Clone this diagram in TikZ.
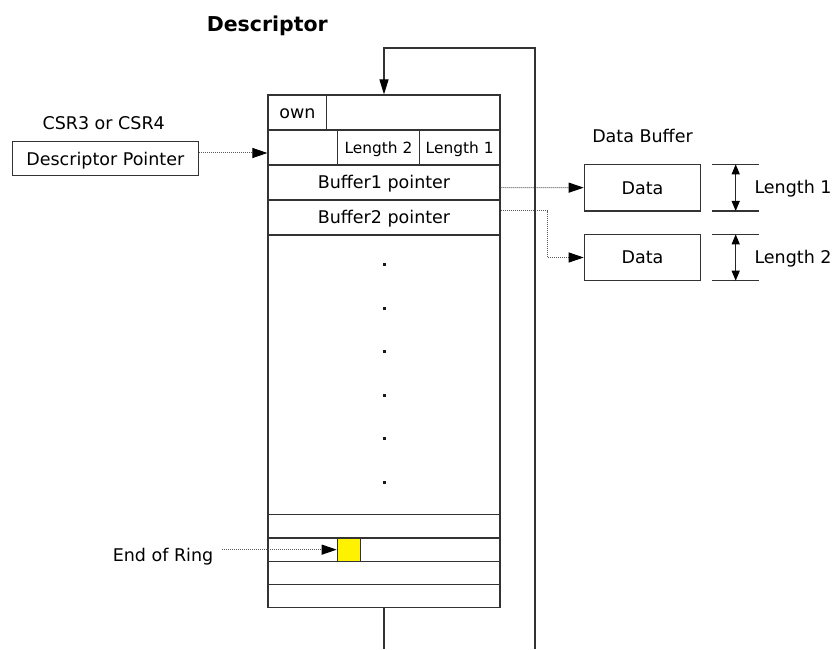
\documentclass[tikz,border=0pt]{standalone}
\usepackage{fontspec}
\setmainfont{DejaVu Sans}
\usetikzlibrary{arrows.meta}
\newcommand\mkcell[7]{\node[#1, minimum width={(#5)-(#3)}, minimum height={(#6)-(#4)}] (#2) at ({((#3)+(#5))/2},{((#4)+(#6))/2}) {#7};}
\tikzset{
  cellbox/.style={draw=black!80, line width=1.2pt, inner sep=0pt, text height=12.8pt, text depth=0pt, font=\fontsize{17.5}{21}\selectfont},
  lencell/.style={cellbox, text height=11.2pt, font=\fontsize{15.4}{18}\selectfont},
  lbl/.style={inner sep=0pt, text height=12.8pt, text depth=0pt, font=\fontsize{17.5}{21}\selectfont},
  ptr/.style={draw=black!65, line width=1pt, dash pattern=on 1pt off 1pt, -{Triangle[length=15pt,width=10pt,fill=black,color=black]}},
  solidline/.style={draw=black!80, line width=1.2pt},
  dimarrow/.style={draw=black!85, line width=1.2pt, {Triangle[length=10pt,width=8pt,fill=black,color=black]}-{Triangle[length=10pt,width=8pt,fill=black,color=black]}},
  dotmark/.style={fill=black!90}
}
\begin{document}
\begin{tikzpicture}[x=1pt,y=-1pt]
\useasboundingbox (0,0) rectangle (836,650);
% descriptor frame and rows
\mkcell{cellbox}{desc}{268}{95}{500}{607.7}{}
\mkcell{cellbox}{own}{268}{95}{326.7}{130}{own}
\mkcell{cellbox}{r1b}{326.7}{95}{500}{130}{}
\mkcell{cellbox}{r2a}{268}{130}{337.7}{165}{}
\mkcell{lencell}{len2}{337.7}{130}{419.3}{165}{Length 2}
\mkcell{lencell}{len1}{419.3}{130}{500}{165}{Length 1}
\mkcell{cellbox}{buf1}{268}{165}{500}{200}{Buffer1 pointer}
\mkcell{cellbox}{buf2}{268}{200}{500}{235}{Buffer2 pointer}
\mkcell{cellbox}{mid}{268}{235}{500}{514.7}{}
\mkcell{cellbox}{e1}{268}{514.7}{500}{538}{}
\mkcell{cellbox}{e2}{268}{538}{500}{561.3}{}
\mkcell{cellbox}{e3}{268}{561.3}{500}{584.7}{}
\mkcell{cellbox}{e4}{268}{584.7}{500}{607.7}{}
\mkcell{cellbox,fill=yellow}{eor}{337.3}{538}{360.7}{561.3}{}
% dots
\foreach \yy in {264,308,351,395,438,482}
  \fill[dotmark] (382.5,\yy-1.5) rectangle (385.5,\yy+1.5);
% labels
\node[lbl, anchor=base, font=\fontsize{20.5}{24}\selectfont\bfseries] (title) at (267.3,31.7) {Descriptor};
\node[lbl, anchor=base] (csr) at (103.7,130) {CSR3 or CSR4};
\mkcell{cellbox}{dptr}{12.3}{141.7}{198.3}{175.7}{Descriptor Pointer}
\node[lbl, anchor=base] (dbuf) at (642.5,142.7) {Data Buffer};
\node[lbl, anchor=base] (eorlbl) at (163,561.7) {End of Ring};
% data buffers
\mkcell{cellbox}{data1}{584.3}{164.3}{700.7}{211}{Data}
\mkcell{cellbox}{data2}{584.3}{234.3}{700.7}{280.7}{Data}
% dimension marks
\coordinate (t1a) at (712.3,164.3); \coordinate (t1b) at (759,164.3);
\coordinate (b1a) at (712.3,211);   \coordinate (b1b) at (759,211);
\coordinate (t2a) at (712.3,234.3); \coordinate (t2b) at (759,234.3);
\coordinate (b2a) at (712.3,280.7); \coordinate (b2b) at (759,280.7);
\draw[solidline] (t1a) -- (t1b); \draw[solidline] (b1a) -- (b1b);
\draw[solidline] (t2a) -- (t2b); \draw[solidline] (b2a) -- (b2b);
\coordinate (d1t) at (735.7,164.3); \coordinate (d1b) at (735.7,211);
\coordinate (d2t) at (735.7,234.3); \coordinate (d2b) at (735.7,280.7);
\draw[dimarrow] (d1t) -- (d1b);
\draw[dimarrow] (d2t) -- (d2b);
\node[lbl, anchor=west] (ln1) at (754.3,186.8) {Length 1};
\node[lbl, anchor=west] (ln2) at (754.3,256.7) {Length 2};
% pointer connectors
\draw[ptr] ([yshift=5.7pt]dptr.east) -- ([yshift=-5.5pt]r2a.west);
\draw[ptr] ([yshift=-5.2pt]buf1.east) -- (data1.west);
\draw[ptr] ([yshift=6.5pt]buf2.east) -- ++(46.7,0) |- (data2.west);
\coordinate (eorstart) at ([xshift=8.4pt]eorlbl.east |- eor.west);
\draw[ptr] (eorstart) -- (eor.west);
% ring loop
\coordinate (tail) at (384,649);
\coordinate (loopR) at (535,649);
\coordinate (loopTR) at (535,48);
\coordinate (loopTL) at (384,48);
\draw[solidline] (desc.south) -- (tail);
\draw[solidline, -{Triangle[length=15pt,width=9pt,fill=black,color=black]}] (loopR) -- (loopTR) -- (loopTL) -- (desc.north);
\end{tikzpicture}
\end{document}
